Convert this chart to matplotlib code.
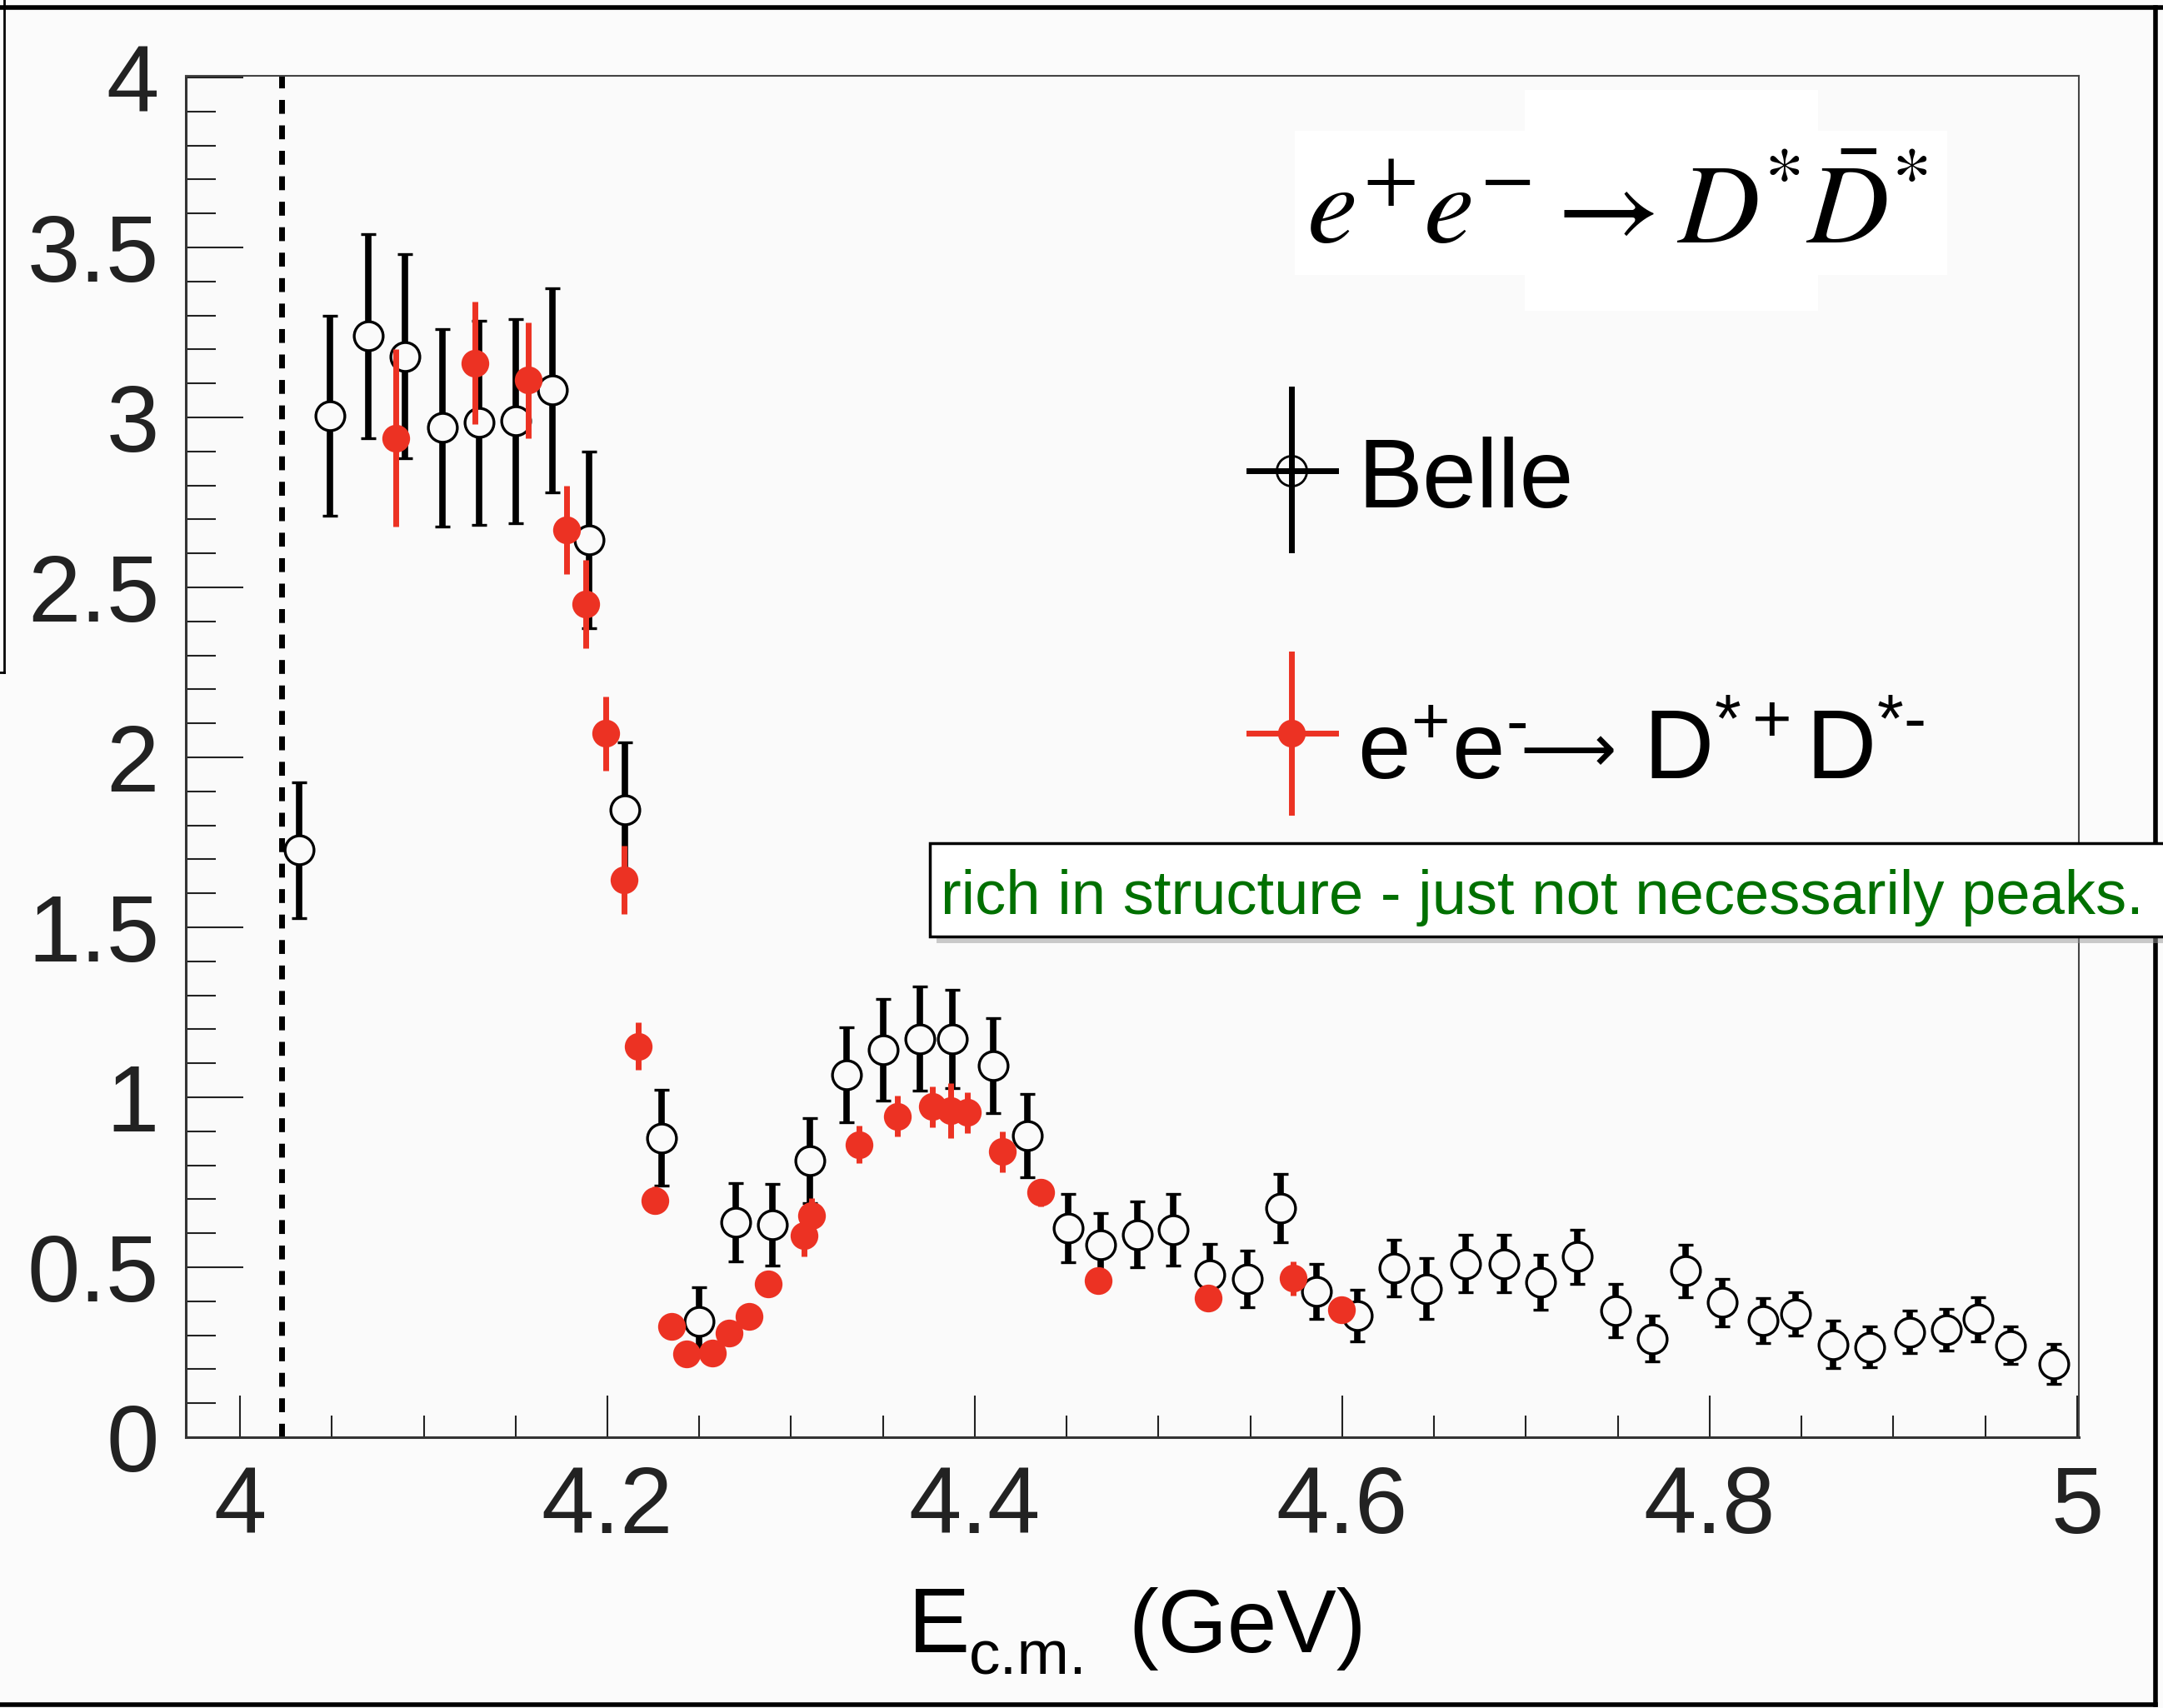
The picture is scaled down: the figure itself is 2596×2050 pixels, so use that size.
import matplotlib
matplotlib.use('Agg')
import matplotlib.pyplot as plt
from matplotlib.lines import Line2D
from matplotlib.patches import Rectangle
from matplotlib.ticker import MultipleLocator, FuncFormatter

plt.rcParams['font.family'] = ['Liberation Sans', 'DejaVu Sans']
plt.rcParams['mathtext.fontset'] = 'custom'
plt.rcParams['mathtext.rm'] = 'Liberation Sans'
plt.rcParams['mathtext.it'] = 'Liberation Sans:italic'
plt.rcParams['mathtext.bf'] = 'Liberation Sans:bold'

# Belle e+e- -> D*D*bar  (open circles)
belle_x = [4.032, 4.049, 4.070, 4.090, 4.110, 4.130, 4.150, 4.170, 4.190, 4.2095,
           4.2297, 4.250, 4.270, 4.290, 4.310, 4.330, 4.350, 4.370, 4.388, 4.410,
           4.4286, 4.451, 4.4685, 4.4885, 4.508, 4.528, 4.5485, 4.5666, 4.586, 4.608,
           4.628, 4.646, 4.667, 4.688, 4.708, 4.728, 4.749, 4.769, 4.787, 4.807,
           4.829, 4.847, 4.867, 4.887, 4.909, 4.929, 4.946, 4.964, 4.9875]
belle_y = [1.727, 3.005, 3.24, 3.18, 2.97, 2.985, 2.99, 3.08, 2.64, 1.845,
           0.881, 0.34, 0.632, 0.625, 0.814, 1.067, 1.14, 1.172, 1.172, 1.094,
           0.887, 0.615, 0.567, 0.596, 0.610, 0.478, 0.466, 0.674, 0.429, 0.359,
           0.498, 0.437, 0.511, 0.511, 0.456, 0.531, 0.372, 0.29, 0.489, 0.396,
           0.343, 0.363, 0.273, 0.265, 0.31, 0.316, 0.347, 0.27, 0.216]
belle_err = [0.20, 0.295, 0.30, 0.30, 0.29, 0.30, 0.30, 0.30, 0.26, 0.20,
             0.14, 0.10, 0.115, 0.12, 0.125, 0.14, 0.15, 0.153, 0.145, 0.14,
             0.122, 0.10, 0.093, 0.097, 0.105, 0.09, 0.083, 0.10, 0.08, 0.076,
             0.083, 0.09, 0.085, 0.085, 0.082, 0.08, 0.078, 0.068, 0.078, 0.07,
             0.066, 0.064, 0.069, 0.06, 0.062, 0.061, 0.064, 0.055, 0.058]

# e+e- -> D*+ D*-  (red filled)
red_x = [4.085, 4.128, 4.157, 4.178, 4.188, 4.199, 4.209, 4.217, 4.226, 4.235,
         4.243, 4.257, 4.266, 4.277, 4.2875, 4.307, 4.311, 4.337, 4.358, 4.377,
         4.387, 4.396, 4.415, 4.436, 4.467, 4.527, 4.5735, 4.5996]
red_y = [2.94, 3.16, 3.11, 2.67, 2.45, 2.07, 1.64, 1.15, 0.697, 0.327,
         0.245, 0.248, 0.306, 0.355, 0.452, 0.593, 0.653, 0.861, 0.944, 0.972,
         0.961, 0.955, 0.84, 0.72, 0.462, 0.409, 0.467, 0.376]
red_err = [0.26, 0.18, 0.17, 0.13, 0.13, 0.11, 0.10, 0.07, 0.04, 0.03,
           0.03, 0.03, 0.03, 0.03, 0.03, 0.06, 0.05, 0.055, 0.06, 0.06,
           0.08, 0.06, 0.06, 0.04, 0.03, 0.03, 0.05, 0.03]

threshold = 4.0225

W, H = 2596, 2050
RED = '#ec3223'
BG = '#fafafa'


def fx(p):
    return p / W


def fy(p):
    return 1 - p / H


fig = plt.figure(figsize=(W / 100, H / 100), dpi=100, facecolor='#fbfbfb')
ax = fig.add_axes([fx(223), fy(1725), (2495 - 223) / W, (1725 - 91) / H])
ax.set_facecolor(BG)

ax.axvline(threshold, color='k', lw=5, ls=(0, (2.4, 2.0)), zorder=1)

ax.errorbar(belle_x, belle_y, yerr=belle_err, fmt='o', ms=25, mfc=BG, mec='k', mew=2.4,
            ecolor='k', elinewidth=5.5, capsize=6.5, capthick=8, zorder=2)
ax.errorbar(red_x, red_y, yerr=red_err, fmt='o', ms=24, mfc=RED, mec=RED, mew=0,
            ecolor=RED, elinewidth=5, capsize=6.5, capthick=7, zorder=3)

ax.set_xlim(3.9705, 5.001)
ax.set_ylim(0, 4.005)
ax.xaxis.set_major_locator(MultipleLocator(0.2))
ax.xaxis.set_minor_locator(MultipleLocator(0.05))
ax.yaxis.set_major_locator(MultipleLocator(0.5))
ax.yaxis.set_minor_locator(MultipleLocator(0.1))
fmt = FuncFormatter(lambda v, pos: f'{v:g}')
ax.xaxis.set_major_formatter(fmt)
ax.yaxis.set_major_formatter(fmt)
ax.tick_params(axis='both', which='both', direction='in', top=False, right=False, width=1.5, colors='#222')
ax.tick_params(axis='y', which='major', length=50, labelsize=82, pad=23)
ax.tick_params(axis='y', which='minor', length=26)
ax.tick_params(axis='x', which='major', length=36, labelsize=82, pad=24)
ax.tick_params(axis='x', which='minor', length=19)
for s in ['left', 'bottom']:
    ax.spines[s].set_linewidth(2.2)
    ax.spines[s].set_color('#333')
for s in ['top', 'right']:
    ax.spines[s].set_linewidth(1.5)
    ax.spines[s].set_color('#444')

# x axis title: E with subscript c.m.
fig.text(fx(1090), fy(1983), 'E', fontsize=80, ha='left', va='baseline')
fig.text(fx(1163), fy(2010), 'c.m.', fontsize=54, ha='left', va='baseline')
fig.text(fx(1354), fy(1983), '(GeV)', fontsize=77, ha='left', va='baseline')

# title box
fig.add_artist(Rectangle((fx(1554), fy(330)), (2337 - 1554) / W, (330 - 157) / H,
                         transform=fig.transFigure, fc='white', ec='none', zorder=4))
fig.add_artist(Rectangle((fx(1830), fy(373)), (2182 - 1830) / W, (373 - 108) / H,
                         transform=fig.transFigure, fc='white', ec='none', zorder=4))
fig.text(fx(1568), fy(292), r'$e^{+}e^{-}\rightarrow D^{\!\!*}\!\bar{D}^{\!*}$', fontsize=98,
         math_fontfamily='stix', ha='left', va='baseline', zorder=5)

# legend
fig.add_artist(Line2D([fx(1550), fx(1550)], [fy(467), fy(660)], color='k', lw=5, transform=fig.transFigure))
fig.add_artist(Line2D([fx(1499), fx(1603)], [fy(565), fy(565)], color='k', lw=5, transform=fig.transFigure))
fig.add_artist(Line2D([fx(1550)], [fy(565)], marker='o', ms=26, mfc='none', mec='k', mew=2,
                      transform=fig.transFigure))
fig.text(fx(1629), fy(609), 'Belle', fontsize=84, ha='left', va='baseline')

fig.add_artist(Line2D([fx(1550), fx(1550)], [fy(785), fy(975)], color=RED, lw=5, transform=fig.transFigure))
fig.add_artist(Line2D([fx(1499), fx(1603)], [fy(880), fy(880)], color=RED, lw=5, transform=fig.transFigure))
fig.add_artist(Line2D([fx(1550)], [fy(880)], marker='o', ms=24, mfc=RED, mec=RED, mew=0,
                      transform=fig.transFigure))
fig.text(fx(1629), fy(935), 'e$^{+}$e$^{\u2010}$', fontsize=82, ha='left', va='baseline')
fig.text(fx(1824), fy(926), '\u27f6', fontsize=58, family=['DejaVu Sans'], ha='left', va='baseline')
fig.text(fx(1972), fy(935), 'D$^{*+}$D$^{*\u2010}$', fontsize=84, ha='left', va='baseline')

# sketchy outer frame
for xs, ys, lw in [([0, 2596], [9, 9], 4), ([2587, 2587], [9, 2046], 4),
                   ([0, 2587], [2046, 2046], 4), ([5, 5], [0, 807], 2), ([0, 5], [807, 807], 2)]:
    fig.add_artist(Line2D([fx(v) for v in xs], [fy(v) for v in ys], color='k', lw=lw,
                          transform=fig.transFigure, zorder=3))

# green comment box
fig.add_artist(Rectangle((fx(1124), fy(1132)), (W - 1116) / W, (1124 - 1012) / H,
                         transform=fig.transFigure, fc='#999999', ec='none', alpha=0.5, zorder=6))
fig.add_artist(Rectangle((fx(1116), fy(1124)), (W - 1116 + 10) / W, (1124 - 1012) / H,
                         transform=fig.transFigure, fc='white', ec='k', lw=2.5, zorder=7))
fig.text(fx(1129), fy(1097), 'rich in structure - just not necessarily peaks.', fontsize=53.5,
         color='#007000', ha='left', va='baseline', zorder=8)

fig.savefig('out.png', dpi=100, facecolor=fig.get_facecolor())
